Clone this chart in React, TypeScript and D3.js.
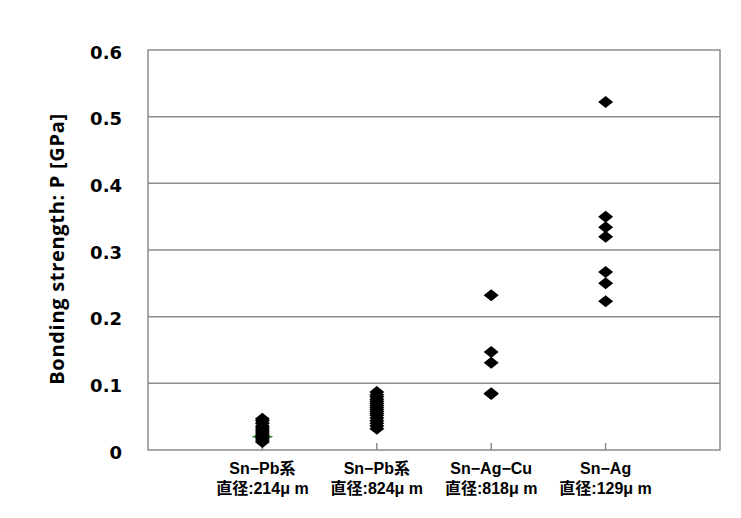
import React from "react";
import * as d3 from "d3";

const categoriesLine1 = ["Sn−Pb系", "Sn−Pb系", "Sn−Ag−Cu", "Sn−Ag"];
const categoriesLine2 = ["直径:214μ m", "直径:824μ m", "直径:818μ m", "直径:129μ m"];
const yTicks = [0, 0.1, 0.2, 0.3, 0.4, 0.5, 0.6];

const snPb214 = [0.012, 0.015, 0.018, 0.021, 0.024, 0.027, 0.03, 0.033, 0.036, 0.04, 0.044, 0.047];
const snPb824 = [0.032, 0.036, 0.04, 0.044, 0.048, 0.052, 0.055, 0.058, 0.061, 0.064, 0.067, 0.07, 0.073, 0.076, 0.08, 0.083, 0.087];
const snAgCu818 = [0.084, 0.085, 0.131, 0.147, 0.232];
const snAg129 = [0.223, 0.25, 0.267, 0.32, 0.334, 0.35, 0.522];
const greenMarker = [0.02];

const seriesList = [snPb214, snPb824, snAgCu818, snAg129];

export default function App() {
  const W = 741, H = 518;
  const left = 148, right = 720, top = 50, bottom = 450;
  const x = d3.scaleLinear().domain([0, 5]).range([left, right]);
  const y = d3.scaleLinear().domain([0, 0.6]).range([bottom, top]);
  const diamond = (cx: number, cy: number, hw: number, hh: number) =>
    `M${cx},${cy - hh}L${cx + hw},${cy}L${cx},${cy + hh}L${cx - hw},${cy}Z`;
  const font = "'Liberation Sans', Arial, 'Noto Sans CJK JP', sans-serif";
  return (
    <svg width={W} height={H} style={{ position: "absolute", left: 0, top: 0 }}>
      <rect x={0} y={0} width={W} height={H} fill="#fff" />
      {yTicks.slice(1, -1).map((t) => (
        <line key={t} x1={left} x2={right} y1={y(t)} y2={y(t)} stroke="#8c8c8c" strokeWidth={1.5} />
      ))}
      <rect x={left} y={top} width={right - left} height={bottom - top} fill="none" stroke="#8c8c8c" strokeWidth={1.5} />
      {[1, 2, 3, 4].map((i) => (
        <line key={i} x1={x(i)} x2={x(i)} y1={bottom} y2={bottom - 7} stroke="#8c8c8c" strokeWidth={1.5} />
      ))}
      {yTicks.map((t) => (
        <text key={t} x={122} y={y(t) + 8.5} textAnchor="end" fontFamily="'DejaVu Sans', sans-serif" fontWeight="bold" fontSize={18} fill="#000">
          {t === 0 ? "0" : t.toFixed(1)}
        </text>
      ))}
      <text
        transform={`translate(64,${249}) rotate(-90)`}
        textAnchor="middle"
        fontFamily="'Open Sans', 'Noto Sans', sans-serif"
        fontWeight="bold"
        fontSize={20}
        letterSpacing={0.7}
        fill="#000"
      >
        Bonding strength: P [GPa]
      </text>
      {greenMarker.map((v, i) => (
        <path key={"g" + i} d={diamond(x(1), y(v), 11, 4)} fill="#2e8b2e" />
      ))}
      {seriesList.map((s, si) =>
        s.map((v, j) => <path key={si + "-" + j} d={diamond(x(si + 1), y(v), 7.5, 6)} fill="#000" />)
      )}
      {categoriesLine1.map((c, i) => (
        <text key={"a" + i} x={x(i + 1)} y={474} textAnchor="middle" fontFamily={font} fontWeight="bold" fontSize={16} fill="#000">
          {c}
        </text>
      ))}
      {categoriesLine2.map((c, i) => (
        <text key={"b" + i} x={x(i + 1)} y={494} textAnchor="middle" fontFamily={font} fontWeight="bold" fontSize={16} fill="#000">
          {c}
        </text>
      ))}
    </svg>
  );
}
